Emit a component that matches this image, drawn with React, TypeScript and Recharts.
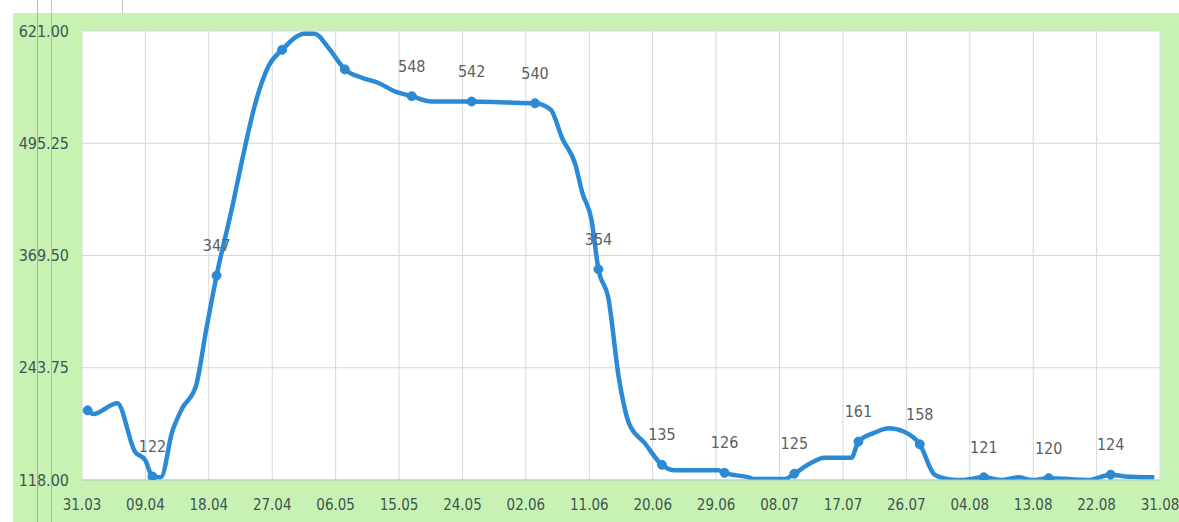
import React from 'react';
import { LineChart, Line, XAxis, YAxis, CartesianGrid, LabelList } from 'recharts';

// Day offsets from 31.03 (0) to 31.08 (153)
const days = [0.8, 1.6, 5, 7.5, 9, 10, 11.2, 12.8, 14.2, 16.2, 17.6, 19.1, 21.3, 23.1, 24.5, 26.5, 28.4, 31.6, 33, 35, 37.3, 40, 42, 44.5, 46.8, 49.6, 55.3, 60, 64.3, 66.5, 68.2, 70, 71, 72.3, 73.3, 74.7, 76.2, 77.6, 79.9, 82.3, 84, 90.3, 91.2, 94.6, 95.5, 99.7, 101.1, 103, 105.4, 109.2, 110.2, 112.5, 114.5, 116.7, 118.9, 121, 123, 124.8, 128, 130.5, 132.9, 134.8, 137.2, 142.8, 146, 148, 152.2];
const values = [196, 192, 204, 150, 140, 122, 121, 172, 198, 224, 285, 347, 423, 490, 537, 582, 600, 618, 618, 602, 578, 568, 563, 553, 548, 542, 542, 541, 540, 533, 500, 472, 440, 410, 354, 322, 232, 182, 159, 135, 129, 129, 126, 121, 119, 119, 125, 135, 143, 143, 161, 171, 176, 172, 158, 124, 119, 118, 121, 118, 121, 118, 120, 118, 124, 122, 121];
// Annotated points (day -> label text)
const labelDays = [10, 19.1, 46.8, 55.3, 64.3, 73.3, 82.3, 91.2, 101.1, 110.2, 118.9, 128, 137.2, 146];
const labelTexts = ['122', '347', '548', '542', '540', '354', '135', '126', '125', '161', '158', '121', '120', '124'];
// Additional markers without text
const markerDays = [0.8, 28.4, 37.3];

const xTickLabels = ['31.03', '09.04', '18.04', '27.04', '06.05', '15.05', '24.05', '02.06', '11.06', '20.06', '29.06', '08.07', '17.07', '26.07', '04.08', '13.08', '22.08', '31.08'];
const xTickDays = [0, 9, 18, 27, 36, 45, 54, 63, 72, 81, 90, 99, 108, 117, 126, 135, 144, 153];
const yTicks = [118, 243.75, 369.5, 495.25, 621];

const data = days.map((d, i) => {
  const li = labelDays.indexOf(d);
  return {
    day: d,
    value: values[i],
    label: li >= 0 ? labelTexts[li] : '',
    marked: li >= 0 || markerDays.includes(d),
  };
});

const FONT = "'DejaVu Sans Condensed', 'DejaVu Sans', sans-serif";
const BLUE = '#2b8ad6';

const renderDot = (props: any) => {
  const { cx, cy, payload, index } = props;
  if (!payload || !payload.marked) return <g key={`d${index}`} />;
  return <circle key={`d${index}`} cx={cx} cy={cy} r={4.5} fill={BLUE} stroke={BLUE} strokeWidth={1} />;
};

const renderLabel = (props: any) => {
  const { x, y, value, index } = props;
  if (!value) return <g key={`l${index}`} />;
  return (
    <text key={`l${index}`} x={x} y={y - 29} textAnchor="middle" dominantBaseline="middle" fontFamily={FONT} fontSize={16} fill="#5a5f62">
      {value}
    </text>
  );
};

export default function App() {
  return (
    <div style={{ position: 'absolute', left: 0, top: 0, width: 1179, height: 522, background: '#ffffff', overflow: 'hidden' }}>
      <div style={{ position: 'absolute', left: 13, top: 13, width: 1166, height: 509, background: '#c8f2b4' }} />
      <div style={{ position: 'absolute', left: 37, top: 0, width: 1, height: 522, background: '#7f8f80', opacity: 0.6 }} />
      <div style={{ position: 'absolute', left: 51, top: 0, width: 1, height: 522, background: '#7f8f80', opacity: 0.5 }} />
      <div style={{ position: 'absolute', left: 122, top: 0, width: 1, height: 13, background: '#9aa09a', opacity: 0.6 }} />
      <div style={{ position: 'absolute', left: 0, top: 0 }}>
        <LineChart width={1179} height={522} data={data} margin={{ top: 31, right: 19, bottom: 12, left: 12 }}>
          <CartesianGrid stroke="#d6d9d9" fill="#ffffff" strokeWidth={1} />
          <XAxis
            dataKey="day"
            type="number"
            domain={[0, 153]}
            ticks={xTickDays}
            tickFormatter={(v: number) => xTickLabels[xTickDays.indexOf(v)] ?? ''}
            axisLine={{ stroke: '#b0cca8' }}
            tickLine={false}
            tickSize={0}
            tickMargin={19}
            height={30}
            interval={0}
            tick={{ fontFamily: FONT, fontSize: 15, fill: '#3e5552' }}
          />
          <YAxis
            type="number"
            domain={[118, 621]}
            ticks={yTicks}
            allowDataOverflow
            tickFormatter={(v: number) => v.toFixed(2)}
            axisLine={false}
            tickLine={false}
            tickSize={0}
            tickMargin={13}
            width={70}
            interval={0}
            tick={{ fontFamily: FONT, fontSize: 16, fill: '#3e5552' }}
          />
          <Line
            type="monotone"
            dataKey="value"
            stroke={BLUE}
            strokeWidth={4.5}
            dot={renderDot}
            activeDot={false}
            isAnimationActive={false}
          >
            <LabelList dataKey="label" content={renderLabel} />
          </Line>
        </LineChart>
      </div>
    </div>
  );
}
